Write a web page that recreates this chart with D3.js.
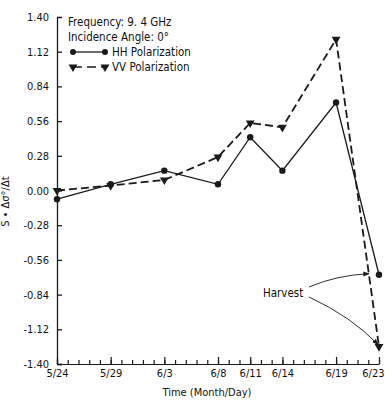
<!DOCTYPE html>
<html>
<head>
<meta charset="utf-8">
<script src="https://cdn.jsdelivr.net/npm/d3@7"></script>
<style>
  body { margin: 0; background: #fff; }
  svg text { font-family: "Liberation Sans Narrow", "DejaVu Sans Condensed", "Arial Narrow", sans-serif; fill: #111; }
</style>
</head>
<body>
<div id="chart"></div>
<script>
// values
var dates = ["5/24", "5/29", "6/3", "6/8", "6/11", "6/14", "6/19", "6/23"];
var hh = [-0.07, 0.05, 0.16, 0.05, 0.43, 0.16, 0.71, -0.68];
var vv = [0.00, 0.04, 0.085, 0.27, 0.545, 0.51, 1.22, -1.26];
var yTicks = [-1.40, -1.12, -0.84, -0.56, -0.28, 0.00, 0.28, 0.56, 0.84, 1.12, 1.40];

var W = 385, H = 401;
var margin = {top: 17, right: 6, bottom: 37, left: 57};

var parse = d3.timeParse("%m/%d/%Y");
function toDate(s) { return parse(s + "/1979"); }

var x = d3.scaleTime()
  .domain([toDate(dates[0]), toDate(dates[dates.length - 1])])
  .range([0, W - margin.left - margin.right]);
var y = d3.scaleLinear()
  .domain([-1.40, 1.40])
  .range([H - margin.top - margin.bottom, 0]);

var svg = d3.select("#chart").append("svg")
  .attr("width", W)
  .attr("height", H)
  .append("g")
  .attr("transform", "translate(" + margin.left + "," + margin.top + ")");

var ink = "#1a1a1a";
var h = H - margin.top - margin.bottom;

// y axis, ticks pointing in
var yAxis = d3.axisLeft(y)
  .tickValues(yTicks)
  .tickSizeInner(-5)
  .tickSizeOuter(-5)
  .tickPadding(8)
  .tickFormat(function(d) { return d3.format(".2f")(d).replace("−", "-"); });
var gy = svg.append("g").call(yAxis);
gy.selectAll("path, line").attr("stroke", ink).attr("stroke-width", 1.3);
gy.selectAll("text").style("font-size", "11px");
gy.select(".tick:last-of-type line").remove();

// x axis: daily minor ticks, taller ticks at labelled dates
var gx = svg.append("g").attr("transform", "translate(0," + h + ")");
gx.call(d3.axisBottom(x)
  .ticks(d3.timeDay.every(1))
  .tickSizeInner(-4)
  .tickSizeOuter(0)
  .tickFormat(""));
gx.selectAll("path, line").attr("stroke", ink).attr("stroke-width", 1.2);

var gx2 = svg.append("g").attr("transform", "translate(0," + h + ")");
gx2.call(d3.axisBottom(x)
  .tickValues(dates.map(toDate))
  .tickSizeInner(-7)
  .tickSizeOuter(0)
  .tickPadding(5)
  .tickFormat(d3.timeFormat("%-m/%-d")));
gx2.select(".domain").remove();
gx2.selectAll("line").attr("stroke", ink).attr("stroke-width", 1.2);
gx2.selectAll("text").style("font-size", "11px");
// last label would run off the page, keep it inside
gx2.select(".tick:last-of-type text").attr("text-anchor", "end").attr("x", 5);

svg.append("text")
  .attr("x", 150)
  .attr("y", h + 32)
  .attr("text-anchor", "middle")
  .style("font-size", "11px")
  .text("Time (Month/Day)");

svg.append("text")
  .attr("transform", "translate(-48," + (y(-0.09)) + ") rotate(-90)")
  .attr("text-anchor", "middle")
  .style("font-size", "11px")
  .text("S • Δσ°/Δt");

// lines
var line = d3.line()
  .x(function(d) { return x(toDate(d.date)); })
  .y(function(d) { return y(d.v); });

var hhData = dates.map(function(d, i) { return {date: d, v: hh[i]}; });
var vvData = dates.map(function(d, i) { return {date: d, v: vv[i]}; });

svg.append("path")
  .datum(vvData)
  .attr("fill", "none")
  .attr("stroke", ink)
  .attr("stroke-width", 1.8)
  .attr("stroke-dasharray", "8,4")
  .attr("d", line);

svg.append("path")
  .datum(hhData)
  .attr("fill", "none")
  .attr("stroke", ink)
  .attr("stroke-width", 1.3)
  .attr("d", line);

var tri = d3.symbol().type(d3.symbolTriangle).size(34);

svg.selectAll(".vv")
  .data(vvData)
  .enter().append("path")
  .attr("d", tri)
  .attr("fill", ink)
  .attr("transform", function(d) { return "translate(" + x(toDate(d.date)) + "," + y(d.v) + ") rotate(180)"; });

svg.selectAll(".hh")
  .data(hhData)
  .enter().append("circle")
  .attr("r", 3.2)
  .attr("cx", function(d) { return x(toDate(d.date)); })
  .attr("cy", function(d) { return y(d.v); })
  .attr("fill", ink);

// legend
var lg = svg.append("g").attr("transform", "translate(11,0)");
lg.append("text").attr("x", 0).attr("y", 9).style("font-size", "11.5px").text("Frequency:  9. 4 GHz");
lg.append("text").attr("x", 0).attr("y", 24).style("font-size", "11.5px").text("Incidence Angle:  0°");
lg.append("line").attr("x1", 5).attr("x2", 37).attr("y1", 35).attr("y2", 35).attr("stroke", ink).attr("stroke-width", 1.3);
lg.append("circle").attr("cx", 5).attr("cy", 35).attr("r", 3).attr("fill", ink);
lg.append("circle").attr("cx", 37).attr("cy", 35).attr("r", 3).attr("fill", ink);
lg.append("text").attr("x", 44).attr("y", 39).style("font-size", "11.5px").text("HH Polarization");
lg.append("line").attr("x1", 5).attr("x2", 37).attr("y1", 50).attr("y2", 50).attr("stroke", ink).attr("stroke-width", 1.6).attr("stroke-dasharray", "9,5");
lg.append("path").attr("d", tri).attr("fill", ink).attr("transform", "translate(5,50) rotate(180)");
lg.append("path").attr("d", tri).attr("fill", ink).attr("transform", "translate(37,50) rotate(180)");
lg.append("text").attr("x", 44).attr("y", 54).style("font-size", "11.5px").text("VV Polarization");

// harvest annotation
var last = dates[dates.length - 1];
svg.append("defs").append("marker")
  .attr("id", "arr")
  .attr("viewBox", "0 0 10 10")
  .attr("refX", 9).attr("refY", 5)
  .attr("markerWidth", 7).attr("markerHeight", 7)
  .attr("orient", "auto")
  .append("path").attr("d", "M0,1 L10,5 L0,9 z").attr("fill", ink);

svg.append("text")
  .attr("x", 206)
  .attr("y", 280)
  .style("font-size", "11.5px")
  .text("Harvest");

var ax = x(toDate(last));
svg.append("path")
  .attr("d", "M252,270 Q280,258 " + (ax - 10) + "," + (y(hh[hh.length - 1]) - 1))
  .attr("fill", "none").attr("stroke", ink).attr("stroke-width", 0.9)
  .attr("marker-end", "url(#arr)");
svg.append("path")
  .attr("d", "M252,280 Q295,300 " + (ax - 1) + "," + (y(vv[vv.length - 1]) - 2))
  .attr("fill", "none").attr("stroke", ink).attr("stroke-width", 0.9)
  .attr("marker-end", "url(#arr)");
</script>
</body>
</html>
